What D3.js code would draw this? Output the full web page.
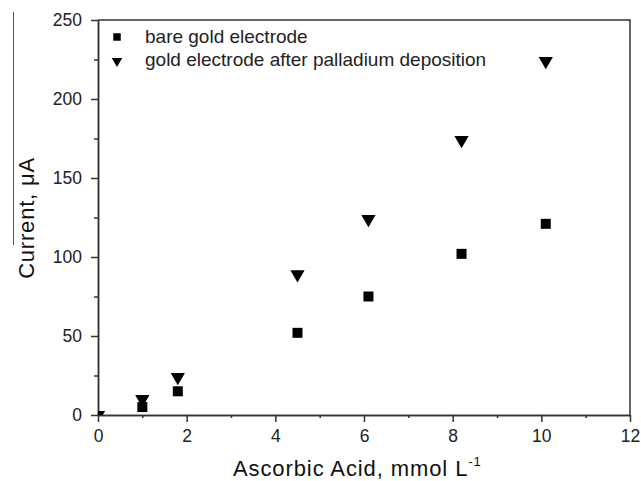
<!DOCTYPE html>
<html>
<head>
<meta charset="utf-8">
<script src="https://cdn.jsdelivr.net/npm/d3@7"></script>
<style>
  body { margin: 0; background: #fff; }
  text { font-family: "Liberation Sans", Arial, sans-serif; }
</style>
</head>
<body>
<div id="chart"></div>
<script>
// data
var concBare = [1.0, 1.8, 4.5, 6.1, 8.2, 10.1];
var currentBare = [5, 15, 52, 75, 102, 121];
var concPd = [0, 1.0, 1.8, 4.5, 6.1, 8.2, 10.1];
var currentPd = [0, 10, 24, 89, 124, 174, 224];
var xTicks = [0, 2, 4, 6, 8, 10, 12];
var yTicks = [0, 50, 100, 150, 200, 250];
var seriesNames = ["bare gold electrode", "gold electrode after palladium deposition"];

var svgWidth = 641;
var svgHeight = 481;
var margin = { top: 20, right: 11, bottom: 66, left: 98 };
var width = svgWidth - margin.left - margin.right;
var height = svgHeight - margin.top - margin.bottom;

var svg = d3.select("#chart")
  .append("svg")
  .attr("width", svgWidth)
  .attr("height", svgHeight);

var chartGroup = svg.append("g")
  .attr("transform", `translate(${margin.left}, ${margin.top})`);

var x = d3.scaleLinear().domain([0, 12]).range([0, width]);
var y = d3.scaleLinear().domain([0, 250]).range([height, 0]);

svg.append("clipPath").attr("id", "plotClip")
  .append("rect").attr("width", width).attr("height", height);

// frame: top and right edges
chartGroup.append("path")
  .attr("d", `M0,0H${width}V${height}`)
  .attr("fill", "none")
  .attr("stroke", "#333")
  .attr("stroke-width", 1.5);

// minor ticks
var minorX = d3.axisBottom(x).tickValues(d3.range(1, 12, 2)).tickSize(3).tickFormat("").tickSizeOuter(0);
var minorY = d3.axisLeft(y).tickValues(d3.range(25, 250, 50)).tickSize(4).tickFormat("").tickSizeOuter(0);
chartGroup.append("g").attr("transform", `translate(0, ${height})`).call(minorX);
chartGroup.append("g").call(minorY);

// major axes
var bottomAxis = d3.axisBottom(x).tickValues(xTicks).tickSize(7).tickSizeOuter(0).tickPadding(8);
var leftAxis = d3.axisLeft(y).tickValues(yTicks).tickSize(7).tickSizeOuter(0).tickPadding(9);

chartGroup.append("g").attr("transform", `translate(0, ${height})`).call(bottomAxis);
chartGroup.append("g").call(leftAxis);

chartGroup.selectAll(".domain").attr("stroke", "#333").attr("stroke-width", 1.5);
chartGroup.selectAll(".tick line").attr("stroke", "#333").attr("stroke-width", 1.5);
chartGroup.selectAll(".tick text")
  .attr("fill", "#222")
  .style("font-size", "17.5px")
  .style("font-family", "'Liberation Sans', Arial, sans-serif");

// markers
var squareSym = d3.symbol().type(d3.symbolSquare).size(100);
var triSym = d3.symbol().type(d3.symbolTriangle).size(88);

var plot = chartGroup.append("g").attr("clip-path", "url(#plotClip)");

plot.selectAll(".pd")
  .data(concPd)
  .enter()
  .append("path")
  .attr("class", "pd")
  .attr("d", triSym)
  .attr("fill", "#000")
  .attr("transform", (d, i) => `translate(${x(d)}, ${y(currentPd[i])}) rotate(180)`);

plot.selectAll(".bare")
  .data(concBare)
  .enter()
  .append("path")
  .attr("class", "bare")
  .attr("d", squareSym)
  .attr("fill", "#000")
  .attr("transform", (d, i) => `translate(${x(d)}, ${y(currentBare[i])})`);

// legend
var legend = chartGroup.append("g").attr("transform", "translate(19, 17)");
legend.append("path")
  .attr("d", d3.symbol().type(d3.symbolSquare).size(56))
  .attr("fill", "#000");
legend.append("path")
  .attr("d", d3.symbol().type(d3.symbolTriangle).size(48))
  .attr("fill", "#000")
  .attr("transform", "translate(0, 24) rotate(180)");
legend.selectAll("text.leg")
  .data(seriesNames)
  .enter()
  .append("text")
  .attr("class", "leg")
  .attr("x", 28)
  .attr("y", (d, i) => i * 23 + 6)
  .style("font-size", "19px")
  .attr("fill", "#222")
  .text(d => d);

// axis titles
var xt = svg.append("text")
  .attr("x", 233)
  .attr("y", 476)
  .style("font-size", "22px")
  .style("letter-spacing", "0.9px")
  .attr("fill", "#111");
xt.append("tspan").text("Ascorbic Acid, mmol L");
xt.append("tspan").attr("dy", -10).style("font-size", "13px").text("-1");

svg.append("text")
  .attr("transform", "rotate(-90)")
  .attr("x", -218)
  .attr("y", 34)
  .attr("text-anchor", "middle")
  .style("font-size", "22px")
  .style("letter-spacing", "0.8px")
  .attr("fill", "#111")
  .text("Current, μA");

// stray rule left of the y title in the scan
svg.append("line")
  .attr("x1", 13.5).attr("x2", 13.5)
  .attr("y1", 12).attr("y2", 245)
  .attr("stroke", "#555")
  .attr("stroke-width", 1);
</script>
</body>
</html>
